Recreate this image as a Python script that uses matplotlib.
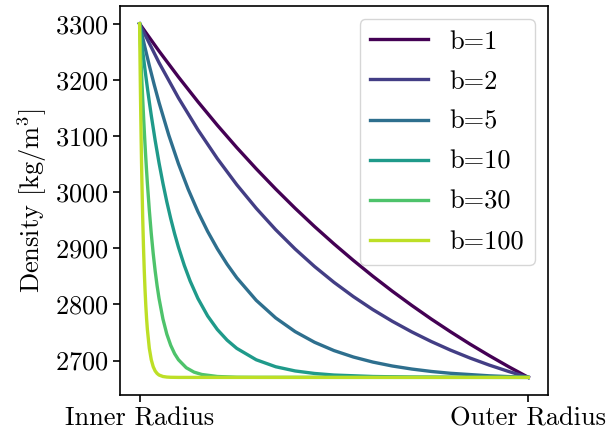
import matplotlib
matplotlib.use("Agg")
import matplotlib.pyplot as plt
import numpy as np

plt.rcParams["font.family"] = "serif"
plt.rcParams["font.serif"] = ["cmr10"]
plt.rcParams["mathtext.fontset"] = "cm"
plt.rcParams["axes.formatter.use_mathtext"] = True
plt.rcParams["axes.unicode_minus"] = False

# radial position: 0 = inner radius, 1 = outer radius
# each profile has its own sample positions, denser where it bends

r_b1 = [0, 0.05, 0.1, 0.15, 0.2, 0.25, 0.3, 0.35, 0.4, 0.45, 0.5, 0.55, 0.6,
        0.65, 0.7, 0.75, 0.8, 0.85, 0.9, 0.95, 1.0]
rho_b1 = [3300, 3251.4, 3205.2, 3161.2, 3119.3, 3079.5, 3041.7, 3005.7,
          2971.4, 2938.8, 2907.9, 2878.4, 2850.3, 2823.6, 2798.3, 2774.1,
          2751.2, 2729.3, 2708.6, 2688.8, 2670]

r_b2 = r_b1
rho_b2 = [3300, 3230.7, 3167.9, 3111.2, 3059.8, 3013.3, 2971.3, 2933.2,
          2898.8, 2867.6, 2839.4, 2813.9, 2790.8, 2770.0, 2751.1, 2734.0,
          2718.5, 2704.5, 2691.8, 2680.4, 2670]

r_b5 = [0, 0.0125, 0.025, 0.0375, 0.05, 0.075, 0.1, 0.125, 0.15, 0.175, 0.2,
        0.225, 0.25, 0.3, 0.35, 0.4, 0.45, 0.5, 0.55, 0.6, 0.65, 0.7, 0.75,
        0.8, 0.9, 1.0]
rho_b5 = [3300, 3261.6, 3225.5, 3191.6, 3159.7, 3101.7, 3050.4, 3005.2,
          2965.3, 2930.1, 2899.1, 2871.7, 2847.5, 2807.3, 2776.0, 2751.6,
          2732.6, 2717.8, 2706.3, 2697.3, 2690.3, 2684.9, 2680.6, 2677.3,
          2672.8, 2670]

r_b10 = [0, 0.005, 0.01, 0.015, 0.02, 0.025, 0.03, 0.04, 0.05, 0.06, 0.07,
         0.08, 0.09, 0.1, 0.115, 0.13, 0.15, 0.175, 0.2, 0.225, 0.25, 0.3,
         0.35, 0.4, 0.45, 0.5, 0.6, 0.7, 0.8, 1.0]
rho_b10 = [3300, 3269.3, 3240.0, 3212.2, 3185.8, 3160.6, 3136.7, 3092.3,
           3052.1, 3015.8, 2982.8, 2953.1, 2926.1, 2901.8, 2869.5, 2841.7,
           2810.6, 2779.5, 2755.3, 2736.4, 2721.7, 2701.4, 2689.0, 2681.5,
           2677.0, 2674.2, 2671.6, 2670.6, 2670.2, 2670]

r_b30 = [0, 0.002, 0.004, 0.006, 0.008, 0.01, 0.0125, 0.015, 0.0175, 0.02,
         0.025, 0.03, 0.035, 0.04, 0.045, 0.05, 0.06, 0.07, 0.08, 0.09, 0.1,
         0.12, 0.14, 0.16, 0.2, 0.25, 0.3, 1.0]
rho_b30 = [3300, 3263.3, 3228.8, 3196.2, 3165.6, 3136.7, 3103.0, 3071.7,
           3042.7, 3015.8, 2967.6, 2926.1, 2890.5, 2859.8, 2833.3, 2810.6,
           2774.1, 2747.1, 2727.2, 2712.3, 2701.4, 2687.2, 2679.4, 2675.2,
           2671.6, 2670.3, 2670.1, 2670]

r_b100 = [0, 0.001, 0.002, 0.003, 0.004, 0.005, 0.006, 0.008, 0.01, 0.012,
          0.014, 0.016, 0.018, 0.02, 0.025, 0.03, 0.035, 0.04, 0.045, 0.05,
          0.06, 0.07, 0.08, 0.1, 1.0]
rho_b100 = [3300, 3240.0, 3185.8, 3136.7, 3092.3, 3052.1, 3015.8, 2953.1,
            2901.8, 2859.8, 2825.4, 2797.2, 2774.1, 2755.3, 2721.7, 2701.4,
            2689.0, 2681.5, 2677.0, 2674.2, 2671.6, 2670.6, 2670.2, 2670.0,
            2670]

b_labels = ["b=1", "b=2", "b=5", "b=10", "b=30", "b=100"]
radii = [r_b1, r_b2, r_b5, r_b10, r_b30, r_b100]
series = [rho_b1, rho_b2, rho_b5, rho_b10, rho_b30, rho_b100]
colors = plt.cm.viridis(np.linspace(0, 0.9, len(series)))

fig, ax = plt.subplots(figsize=(6.1, 4.38), dpi=100)
fig.subplots_adjust(left=0.197, right=0.898, bottom=0.098, top=0.986)

for r, rho, label, color in zip(radii, series, b_labels, colors):
    ax.plot(r, rho, color=color, lw=2.4, label=label)

ax.set_xticks([0, 1])
ax.set_xticklabels(["Inner Radius", "Outer Radius"])
ax.set_ylabel("Density [kg/m$^3$]", fontsize=19)
ax.tick_params(labelsize=19, width=1.2, length=5)
for spine in ax.spines.values():
    spine.set_linewidth(1.2)

ax.legend(loc="upper right", fontsize=19, handlelength=2.2,
          labelspacing=0.62)

fig.savefig("out.png", dpi=100)
